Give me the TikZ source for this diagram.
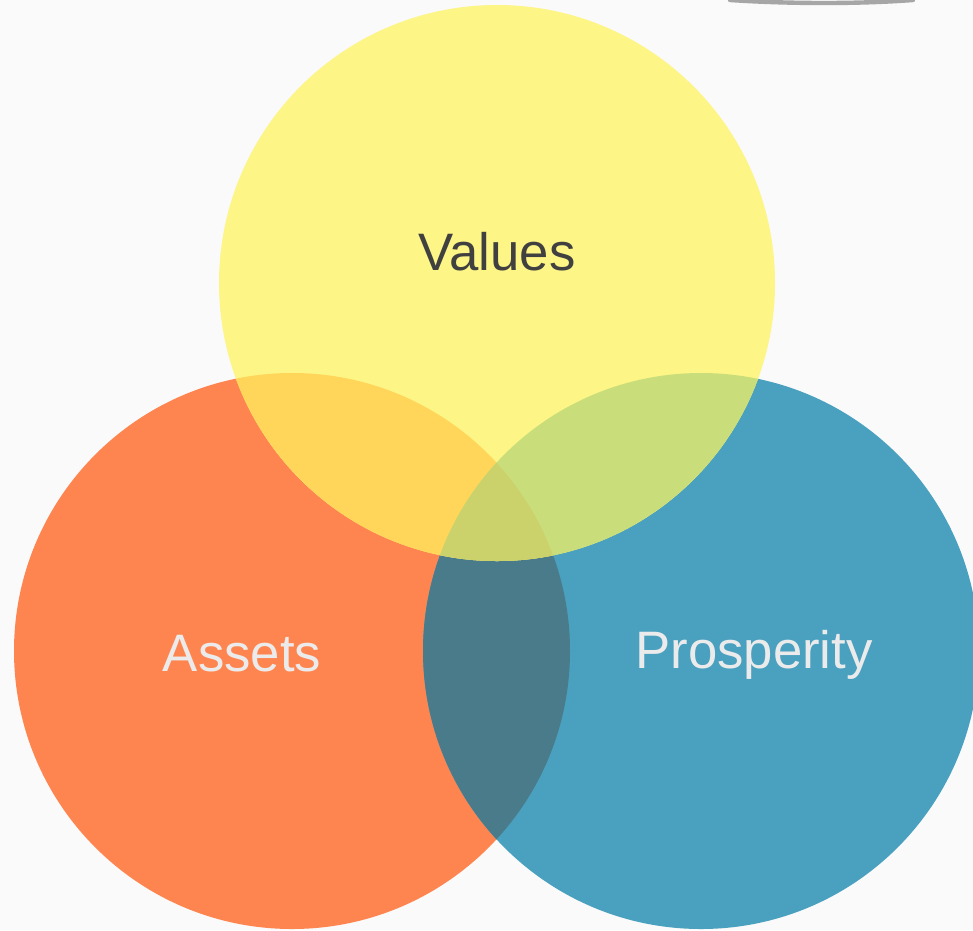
\documentclass[tikz,border=0pt]{standalone}
\usepackage{fontspec}
\setmainfont{Liberation Sans}
\usepackage{tikz}
\usetikzlibrary{calc}

\definecolor{valyellow}{RGB}{253,245,133}
\definecolor{asorange}{RGB}{255,133,80}
\definecolor{prblue}{RGB}{74,160,191}
\definecolor{asprdark}{RGB}{74,123,138}
\definecolor{valas}{RGB}{255,214,90}
\definecolor{valpr}{RGB}{201,222,122}
\definecolor{valall}{RGB}{203,210,108}
\definecolor{bgpaper}{RGB}{250,250,250}

\begin{document}
\begin{tikzpicture}[x=0.02cm,y=-0.02cm]
  \fill[bgpaper] (0,0) rectangle (973,930);
  \useasboundingbox (0,0) rectangle (973,930);

  % top right edge of a shape
  \draw[gray!70, line width=2.5, line cap=round] (730,0) .. controls (790,4) and (860,4) .. (913,0);

  % assets and prosperity
  \fill[asorange] (292,651) circle (278);
  \fill[prblue] (701,651) circle (278);
  \begin{scope}
    \clip (292,651) circle (278);
    \fill[asprdark] (701,651) circle (278);
  \end{scope}

  % values
  \fill[valyellow] (497,283) circle (278);
  \begin{scope}
    \clip (497,283) circle (278);
    \fill[valas] (292,651) circle (278);
    \fill[valpr] (701,651) circle (278);
    \clip (292,651) circle (278);
    \fill[valall] (701,651) circle (278);
  \end{scope}

  \node[text=black!75, font=\fontsize{30}{36}\selectfont] (values) at (497,252) {Values};
  \node[text=white!92!black, font=\fontsize{30}{36}\selectfont] (assets) at (242,654) {Assets};
  \node[text=white!92!black, font=\fontsize{30}{36}\selectfont] (prosperity) at (754,655) {Prosperity};
\end{tikzpicture}
\end{document}
